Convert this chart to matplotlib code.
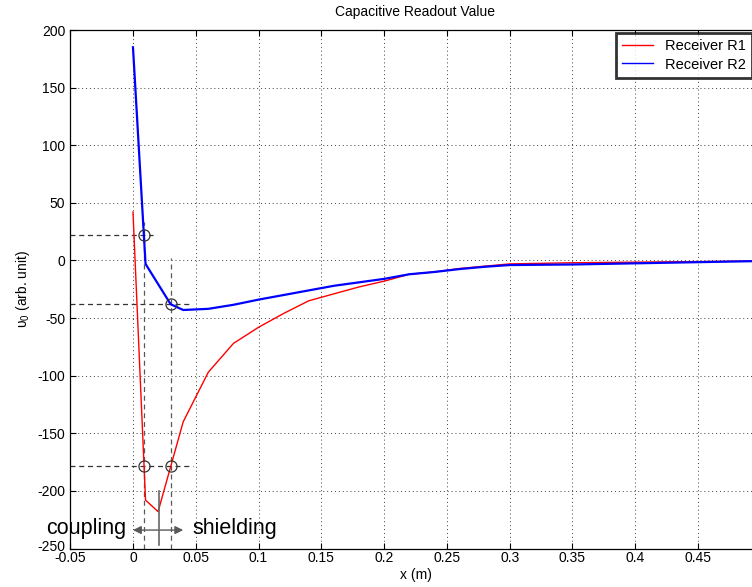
import matplotlib
matplotlib.use("Agg")
import matplotlib.pyplot as plt
import matplotlib.transforms as mtransforms

plt.rcParams['font.family'] = ['Liberation Sans', 'DejaVu Sans']
plt.rcParams['mathtext.fontset'] = 'custom'
plt.rcParams['mathtext.rm'] = 'Liberation Sans'
plt.rcParams['mathtext.it'] = 'Liberation Sans:italic'
plt.rcParams['axes.unicode_minus'] = False

# ---- data ----
x_r1 = [0.0, 0.01, 0.02, 0.04, 0.06, 0.08, 0.10, 0.12, 0.14, 0.16, 0.18, 0.20,
        0.22, 0.24, 0.26, 0.28, 0.30, 0.35, 0.40, 0.45, 0.50]
y_r1 = [42, -208, -218, -140, -97, -72, -58, -46, -35, -29, -23, -18,
        -12, -10, -7, -5, -3, -2, -1.5, -1, -0.5]
x_r2 = [0.0, 0.01, 0.03, 0.04, 0.06, 0.08, 0.10, 0.12, 0.14, 0.16, 0.18, 0.20,
        0.22, 0.24, 0.26, 0.28, 0.30, 0.35, 0.40, 0.45, 0.50]
y_r2 = [185, -3, -38, -43, -42, -38.5, -34, -30, -26, -22, -19, -16,
        -12, -10, -7.5, -5.5, -4, -3.5, -2.5, -1.5, -0.5]

# marked crossing points
circ_x = [0.0087, 0.030, 0.009, 0.030]
circ_y = [22, -38, -178, -178]
# horizontal guide lines: (y, x_end)
hguides_y = [22, -38, -178]
hguides_xend = [0.016, 0.045, 0.048]
# vertical guide lines: (x, y_top)
vguides_x = [0.009, 0.030]
vguides_ytop = [33, 2]

xticks = [-0.05, 0, 0.05, 0.1, 0.15, 0.2, 0.25, 0.3, 0.35, 0.4, 0.45]
xtick_labels = ['-0.05', '0', '0.05', '0.1', '0.15', '0.2', '0.25', '0.3', '0.35', '0.4', '0.45']
yticks = [-250, -200, -150, -100, -50, 0, 50, 100, 150, 200]

fig = plt.figure(figsize=(7.52, 5.87), dpi=100)
ax = fig.add_axes([70.2/752, 1 - 548.5/587, (760.8 - 70.2)/752, (548.5 - 30)/587])

ax.set_xlim(-0.05, 0.5)
ax.set_ylim(-250, 200)
ax.set_xticks(xticks)
ax.set_xticklabels(xtick_labels)
ax.set_yticks(yticks)
ax.tick_params(direction='in', top=True, right=True, length=4, labelsize=10, width=0.8)
ax.tick_params(axis='x', pad=2)
ax.grid(True, color='0.25', linestyle=(0, (1, 3)), linewidth=0.7)
for s in ax.spines.values():
    s.set_linewidth(0.9)

# nudge the lowest y tick label up slightly so it only touches the x labels
lbl = ax.get_yticklabels()[0]
lbl.set_transform(lbl.get_transform() + mtransforms.ScaledTranslation(0, 3/100, fig.dpi_scale_trans))

ax.plot(x_r1, y_r1, color='#ff0000', linewidth=1.0, label='Receiver R1', zorder=3)
ax.plot(x_r2, y_r2, color='#0000ff', linewidth=1.6, label='Receiver R2', zorder=3)

for yv, xe in zip(hguides_y, hguides_xend):
    ax.plot([-0.05, xe], [yv, yv], color='0.2', linestyle=(0, (4, 3)), linewidth=0.9, zorder=2)
for xv, yt in zip(vguides_x, vguides_ytop):
    ax.plot([xv, xv], [-250, yt], color='0.35', linestyle=(0, (4, 3)), linewidth=0.9, zorder=2)

ax.plot(circ_x, circ_y, linestyle='none', marker='o', markersize=8, markerfacecolor='none',
        markeredgecolor='0.2', markeredgewidth=0.9, zorder=4)

# coupling / shielding annotation
ax.annotate('', xy=(0.0, -234), xytext=(0.04, -234),
            arrowprops=dict(arrowstyle='<|-|>', color='0.35', lw=1.0,
                            mutation_scale=12, shrinkA=0, shrinkB=0), zorder=5)
ax.plot([0.0204, 0.0204], [-200.5, -247], color='0.4', linewidth=1.2, zorder=5)
ax.text(-0.005, -233, 'coupling', fontsize=15.5, ha='right', va='center', color='black')
ax.text(0.047, -233, 'shielding', fontsize=15.5, ha='left', va='center', color='black')

ax.set_title('Capacitive Readout Value', fontsize=10, pad=10)
ax.set_xlabel('x (m)', fontsize=10, labelpad=2)
ax.set_ylabel('υ$_0$ (arb. unit)', fontsize=10, labelpad=4)

leg = ax.legend(loc='upper right', bbox_to_anchor=((752 - 70.2) / (760.8 - 70.2), 0.995),
                fontsize=10.5, frameon=True, fancybox=False, handlelength=2.1,
                borderpad=0.45, labelspacing=0.3, handletextpad=0.8, borderaxespad=0)
leg.get_frame().set_edgecolor('black')
leg.get_frame().set_linewidth(2.0)
for ln in leg.get_lines():
    ln.set_linewidth(1.0)

fig.savefig('out.png', dpi=100)
